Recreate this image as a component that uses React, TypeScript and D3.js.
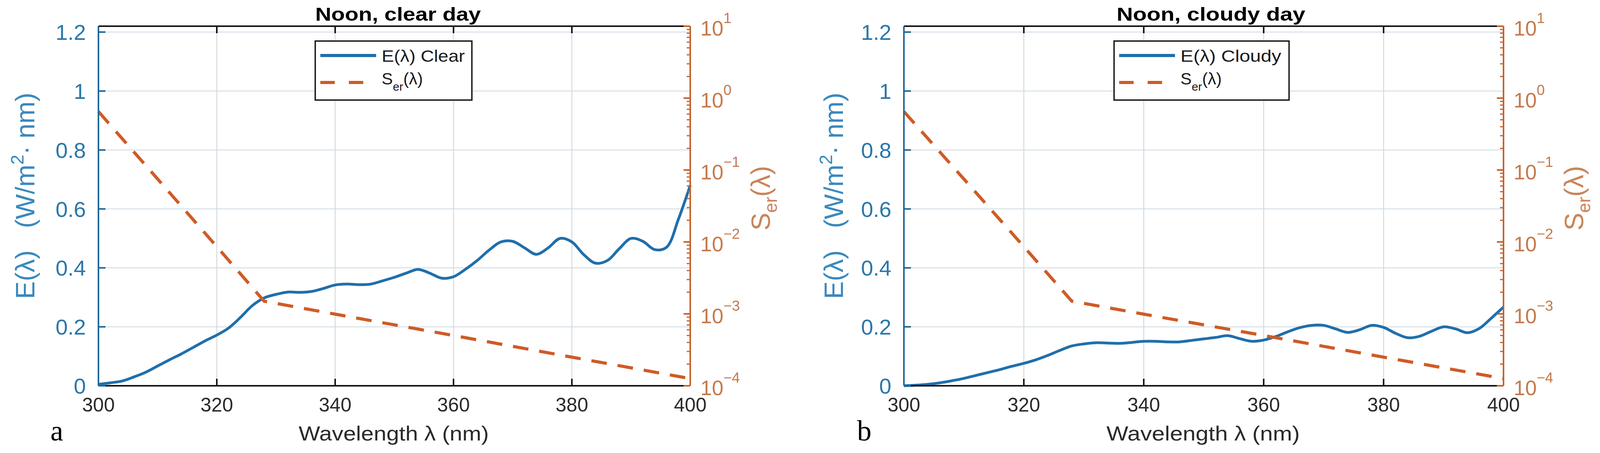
import * as d3 from "d3";
import React from "react";

// wavelength grid (nm) and irradiance
const wlClear = [300, 302, 304, 306, 308, 310, 312, 314, 316, 318, 320, 322, 324, 326, 328, 330, 332, 334, 336, 338, 340, 342, 344, 346, 348, 350, 352, 354, 356, 358, 360, 362, 364, 366, 368, 370, 372, 374, 376, 378, 380, 382, 384, 386, 388, 390, 392, 394, 396, 398, 400];
const eClear = [0.005, 0.01, 0.016, 0.03, 0.046, 0.067, 0.088, 0.108, 0.13, 0.152, 0.172, 0.196, 0.232, 0.272, 0.298, 0.31, 0.318, 0.317, 0.32, 0.33, 0.342, 0.345, 0.343, 0.345, 0.356, 0.368, 0.382, 0.395, 0.382, 0.365, 0.37, 0.395, 0.425, 0.46, 0.488, 0.49, 0.468, 0.446, 0.468, 0.5, 0.488, 0.445, 0.416, 0.425, 0.465, 0.5, 0.49, 0.462, 0.47, 0.565, 0.68];

const wlCloudy = [300, 302, 304, 306, 308, 310, 312, 314, 316, 318, 320, 322, 324, 326, 328, 330, 332, 334, 336, 338, 340, 342, 344, 346, 348, 350, 352, 354, 356, 358, 360, 362, 364, 366, 368, 370, 372, 374, 376, 378, 380, 382, 384, 386, 388, 390, 392, 394, 396, 398, 400];
const eCloudy = [0.0, 0.002, 0.005, 0.01, 0.017, 0.025, 0.035, 0.045, 0.055, 0.066, 0.076, 0.088, 0.103, 0.12, 0.135, 0.142, 0.146, 0.145, 0.144, 0.147, 0.151, 0.151, 0.149, 0.149, 0.154, 0.159, 0.164, 0.17, 0.16, 0.151, 0.155, 0.167, 0.183, 0.197, 0.205, 0.205, 0.193, 0.181, 0.19, 0.205, 0.198, 0.178, 0.163, 0.168, 0.185, 0.2, 0.193, 0.18, 0.195, 0.23, 0.267];

// erythema action spectrum
const wlSer = [300, 310, 320, 328, 340, 360, 380, 400];
const serValues = [0.65, 0.075, 0.0086, 0.0015, 0.00099, 0.0005, 0.00025, 0.000126];

const xTicks = [300, 320, 340, 360, 380, 400];
const eTicks = [0, 0.2, 0.4, 0.6, 0.8, 1, 1.2];
const serDecades = [1e-4, 1e-3, 1e-2, 1e-1, 1, 10];
const serExponents = ["\u22124", "\u22123", "\u22122", "\u22121", "0", "1"];

const W = 4106, H = 1159;
const TOP = 67, BOTTOM = 987;
const SANS = "'Liberation Sans', Arial, Helvetica, sans-serif";
const SERIF = "'Liberation Serif', 'Times New Roman', serif";

const C = {
    eLine: "#1f6fab",
    serLine: "#cf5b26",
    leftAxis: "#1f6798",
    leftText: "#2c77ab",
    leftLabel: "#3a89bd",
    rightAxis: "#c4622c",
    rightText: "#c47a4e",
    rightLabel: "#c9855a",
    gridH: "#dbe4ec",
    gridV: "#d6d9dc",
    frame: "#151515",
    xText: "#2a2a2a",
};

type PanelProps = {
    left: number; right: number;
    title: string; titleCx: number; titleLen: number;
    letter: string; letterX: number;
    wl: number[]; e: number[];
    legendText: string; legendX: number; legendW: number; legendTextLen: number;
    yLabelX: number; rightLabelX: number;
    xLabelCx: number; xLabelLen: number;
};

const Panel: React.FC<PanelProps> = (p) => {
    const x = d3.scaleLinear().domain([300, 400]).range([p.left, p.right]);
    const yE = d3.scaleLinear().domain([0, 1.22]).range([BOTTOM, TOP]);
    const yS = d3.scaleLog().domain([1e-4, 10]).range([BOTTOM, TOP]);
    const lineE = d3.line<number>().x((_, i) => x(p.wl[i])).y(d => yE(d)).curve(d3.curveCatmullRom.alpha(0.5));
    const lineS = d3.line<number>().x((_, i) => x(wlSer[i])).y(d => yS(d));
    const minor = yS.ticks().filter(t => !serDecades.some(d => Math.abs(d - t) / d < 1e-6));
    const midY = (TOP + BOTTOM) / 2;
    const lgTop = 105;

    return (
        <g>
            {/* grid */}
            {eTicks.filter(t => t > 0).map(t => (
                <line key={"gh" + t} x1={p.left} x2={p.right} y1={yE(t)} y2={yE(t)} stroke={C.gridH} strokeWidth={3} />
            ))}
            {xTicks.filter(t => t > 300 && t < 400).map(t => (
                <line key={"gv" + t} x1={x(t)} x2={x(t)} y1={TOP} y2={BOTTOM} stroke={C.gridV} strokeWidth={2.5} />
            ))}

            {/* series */}
            <path d={lineE(p.e)!} fill="none" stroke={C.eLine} strokeWidth={7} strokeLinejoin="round" />
            <path d={lineS(serValues)!} fill="none" stroke={C.serLine} strokeWidth={8} strokeDasharray="40 28" />

            {/* frame: top and bottom */}
            <line x1={p.left} x2={p.right} y1={TOP} y2={TOP} stroke={C.frame} strokeWidth={4} />
            <line x1={p.left} x2={p.right} y1={BOTTOM} y2={BOTTOM} stroke={C.frame} strokeWidth={4} />
            {xTicks.filter(t => t > 300 && t < 400).map(t => (
                <g key={"xt" + t}>
                    <line x1={x(t)} x2={x(t)} y1={TOP} y2={TOP + 18} stroke={C.frame} strokeWidth={4} />
                    <line x1={x(t)} x2={x(t)} y1={BOTTOM} y2={BOTTOM - 18} stroke={C.frame} strokeWidth={4} />
                </g>
            ))}
            {xTicks.map(t => (
                <text key={"xl" + t} x={x(t)} y={1053} textAnchor="middle" fontFamily={SANS} fontSize={50} fill={C.xText}>{t}</text>
            ))}

            {/* left axis */}
            <line x1={p.left} x2={p.left} y1={TOP} y2={BOTTOM} stroke={C.leftAxis} strokeWidth={4} />
            {eTicks.map(t => (
                <g key={"yl" + t}>
                    <line x1={p.left} x2={p.left + 18} y1={yE(t)} y2={yE(t)} stroke={C.leftAxis} strokeWidth={4} />
                    <text x={p.left - 32} y={yE(t) + 20} textAnchor="end" fontFamily={SANS} fontSize={56} fill={C.leftText}>{String(t)}</text>
                </g>
            ))}

            {/* right log axis */}
            <line x1={p.right} x2={p.right} y1={TOP} y2={BOTTOM} stroke={C.rightAxis} strokeWidth={4} />
            {minor.map((t, i) => (
                <line key={"mn" + i} x1={p.right} x2={p.right - 9} y1={yS(t)} y2={yS(t)} stroke={C.rightAxis} strokeWidth={3} />
            ))}
            {serDecades.map((t, i) => (
                <g key={"yr" + i}>
                    <line x1={p.right} x2={p.right - 17} y1={yS(t)} y2={yS(t)} stroke={C.rightAxis} strokeWidth={4} />
                    <text x={p.right + 26} y={yS(t) + 24} fontFamily={SANS} fontSize={53} fill={C.rightText}>
                        10<tspan fontSize={37} dy={-32}>{serExponents[i]}</tspan>
                    </text>
                </g>
            ))}

            {/* axis labels */}
            <text transform={`translate(${p.yLabelX},${midY - 26}) rotate(-90)`} textAnchor="middle" fontFamily={SANS} fontSize={68} fill={C.leftLabel} style={{ whiteSpace: "pre" }}>
                {"E(\u03bb)   (W/m"}<tspan fontSize={46} dy={-28}>2</tspan><tspan dy={28}>{"\u00b7 nm)"}</tspan>
            </text>
            <text transform={`translate(${p.rightLabelX},${midY - 20}) rotate(-90)`} textAnchor="middle" fontFamily={SANS} fontSize={68} fill={C.rightLabel}>
                S<tspan fontSize={46} dy={18}>er</tspan><tspan dy={-18}>({"\u03bb"})</tspan>
            </text>
            <text x={p.xLabelCx} y={1127} textAnchor="middle" fontFamily={SANS} fontSize={52} fill={C.xText} textLength={p.xLabelLen} lengthAdjust="spacingAndGlyphs">
                {"Wavelength \u03bb (nm)"}
            </text>
            <text x={p.titleCx} y={53} textAnchor="middle" fontFamily={SANS} fontWeight="bold" fontSize={48} fill="#000" textLength={p.titleLen} lengthAdjust="spacingAndGlyphs">
                {p.title}
            </text>
            <text x={p.letterX} y={1127} fontFamily={SERIF} fontSize={74} fill="#000">{p.letter}</text>

            {/* legend */}
            <rect x={p.legendX} y={lgTop} width={p.legendW} height={151} fill="#fff" stroke={C.frame} strokeWidth={3.5} />
            <line x1={p.legendX + 13} x2={p.legendX + 156} y1={lgTop + 37} y2={lgTop + 37} stroke={C.eLine} strokeWidth={8} />
            <text x={p.legendX + 170} y={lgTop + 53} fontFamily={SANS} fontSize={43} fill="#1a1a1a" textLength={p.legendTextLen} lengthAdjust="spacingAndGlyphs">{p.legendText}</text>
            <line x1={p.legendX + 13} x2={p.legendX + 156} y1={lgTop + 106} y2={lgTop + 106} stroke={C.serLine} strokeWidth={8} strokeDasharray="37 36" />
            <text x={p.legendX + 170} y={lgTop + 111} fontFamily={SANS} fontSize={43} fill="#1a1a1a">
                S<tspan fontSize={30} dy={16}>er</tspan><tspan dy={-16}>({"\u03bb"})</tspan>
            </text>
        </g>
    );
};

export default function App() {
    return (
        <svg width={W} height={H} viewBox={`0 0 ${W} ${H}`} style={{ position: "absolute", left: 0, top: 0, display: "block", background: "#fff" }}>
            <rect width={W} height={H} fill="#fff" />
            <Panel left={252} right={1767} title="Noon, clear day" titleCx={1019} titleLen={424}
                letter="a" letterX={129} wl={wlClear} e={eClear}
                legendText={"E(\u03bb) Clear"} legendX={807} legendW={401} legendTextLen={213}
                yLabelX={88} rightLabelX={1971} xLabelCx={1008} xLabelLen={487} />
            <Panel left={2314} right={3849} title="Noon, cloudy day" titleCx={3100} titleLen={483}
                letter="b" letterX={2194} wl={wlCloudy} e={eCloudy}
                legendText={"E(\u03bb) Cloudy"} legendX={2852} legendW={448} legendTextLen={258}
                yLabelX={2158} rightLabelX={4053} xLabelCx={3080} xLabelLen={495} />
        </svg>
    );
}
